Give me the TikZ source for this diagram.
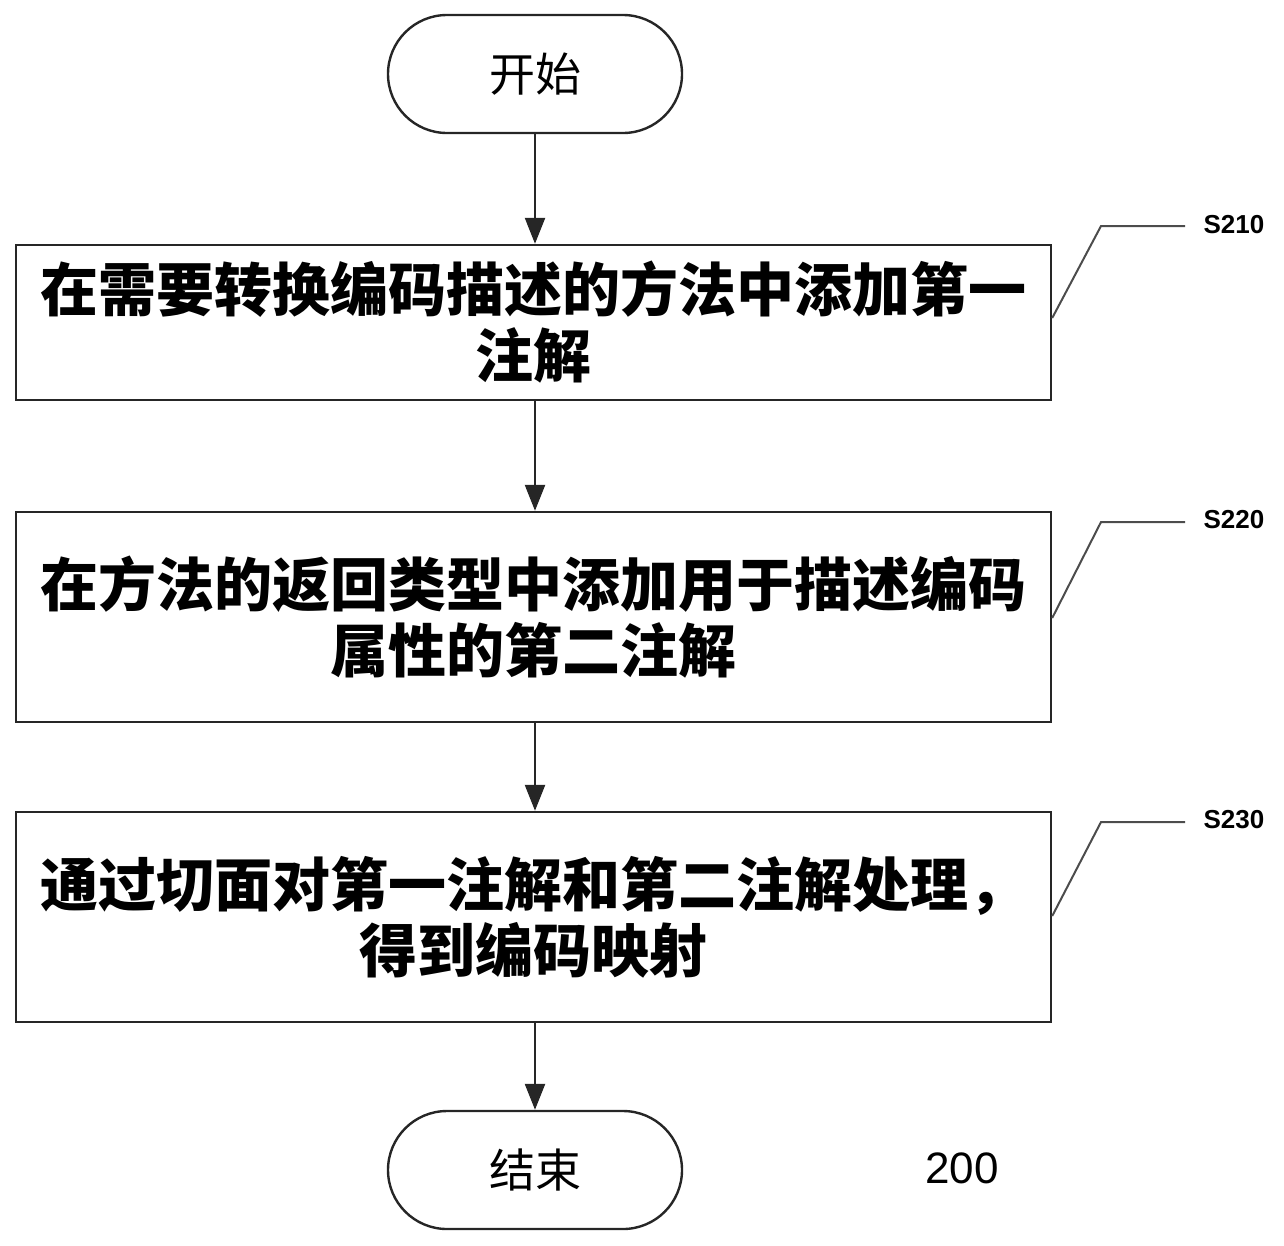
\documentclass[tikz,border=0pt]{standalone}
\usepackage{fontspec}
\newfontfamily\cjk{Noto Sans CJK SC}
\setmainfont{Liberation Sans}
\usetikzlibrary{arrows.meta}
\begin{document}
\begin{tikzpicture}[x=1pt,y=-1pt,
  line width=2.4pt, draw=black!85,
  term/.style={draw, rounded corners=59pt, minimum width=294pt, minimum height=118pt, inner sep=0pt, font=\cjk\fontsize{46}{50}\selectfont},
  stepbox/.style={draw, minimum width=1035pt, inner sep=0pt, align=center, font=\cjk\bfseries\fontsize{58}{66}\selectfont},
  arr/.style={-{Triangle[length=26pt,width=20pt]}},
  lead/.style={line width=2pt, draw=black!70},
  lbl/.style={font=\bfseries\fontsize{26}{28}\selectfont, anchor=center, inner sep=0pt}]
\useasboundingbox (0,0) rectangle (1284,1245);
\node[term] (start) at (535,74) {开始};
\node[stepbox, minimum height=155pt] (s1) at (533.5,322.5) {在需要转换编码描述的方法中添加第一\\注解};
\node[stepbox, minimum height=210pt] (s2) at (533.5,617) {在方法的返回类型中添加用于描述编码\\属性的第二注解};
\node[stepbox, minimum height=210pt] (s3) at (533.5,917) {通过切面对第一注解和第二注解处理，\\得到编码映射};
\node[term] (end) at (535,1170) {结束};
\node[font=\fontsize{44}{46}\selectfont, inner sep=0pt] (num) at (962,1168) {200};
\draw[arr] (start) -- (start|-s1.north);
\draw[arr] (start|-s1.south) -- (start|-s2.north);
\draw[arr] (start|-s2.south) -- (start|-s3.north);
\draw[arr] (start|-s3.south) -- (end);
\coordinate (k1) at (1101,226); \coordinate (e1) at (1185,226);
\coordinate (k2) at (1101,522); \coordinate (e2) at (1185,522);
\coordinate (k3) at (1101,822); \coordinate (e3) at (1185,822);
\node[lbl] (l1) at (1234,225) {S210};
\node[lbl] (l2) at (1234,520) {S220};
\node[lbl] (l3) at (1234,820) {S230};
\draw[lead] (s1.east|-0,318) -- (k1) -- (e1);
\draw[lead] (s2.east|-0,618) -- (k2) -- (e2);
\draw[lead] (s3.east|-0,916) -- (k3) -- (e3);
\end{tikzpicture}
\end{document}
